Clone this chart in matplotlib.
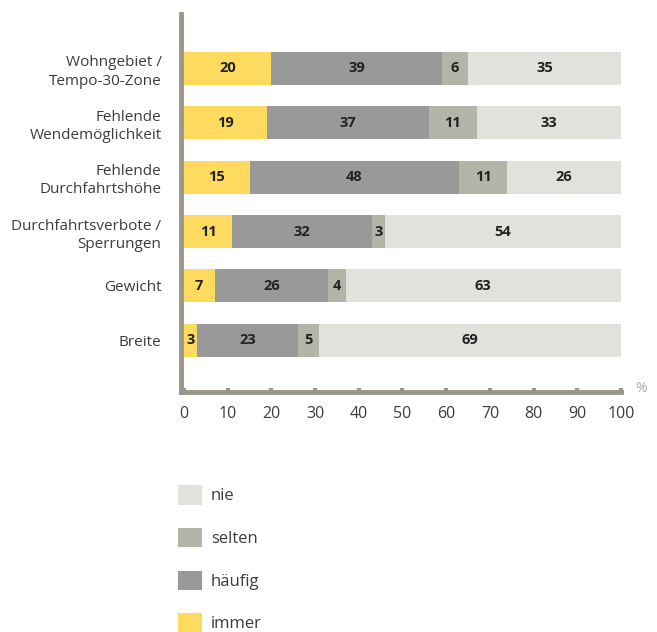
import numpy as np
import matplotlib.pyplot as plt

plt.rcParams['font.family'] = ['Open Sans', 'DejaVu Sans']

# rows, top to bottom
categories = ["Wohngebiet /\nTempo-30-Zone", "Fehlende\nWendemöglichkeit",
              "Fehlende\nDurchfahrtshöhe", "Durchfahrtsverbote /\nSperrungen",
              "Gewicht", "Breite"]
immer = [20, 19, 15, 11, 7, 3]
haeufig = [39, 37, 48, 32, 26, 23]
selten = [6, 11, 11, 3, 4, 5]
nie = [35, 33, 26, 54, 63, 69]

series = [("immer", immer, "#fedb5f"),
          ("häufig", haeufig, "#999999"),
          ("selten", selten, "#b5b4a8"),
          ("nie", nie, "#e2e1dc")]

axis_col = "#9a978a"
text_col = "#3c3c3c"

fig = plt.figure(figsize=(6.57, 6.32), dpi=100)
W, H = 657, 632
ax = fig.add_axes([181 / W, 1 - 392 / H, (621 - 181) / W, (392 - 14) / H])

y = np.arange(len(categories))
left = np.zeros(len(categories))
handles = {}
for name, vals, col in series:
    vals = np.array(vals)
    b = ax.barh(y, vals, left=left, height=0.607, color=col, label=name, zorder=1)
    handles[name] = b
    for yi, l, v in zip(y, left, vals):
        ax.text(l + v / 2, yi, str(v), ha='center', va='center',
                fontsize=10.5, fontweight='bold', color="#222222")
    left = left + vals

ax.set_xlim(-0.68, 100)
ax.set_ylim(5.95, -1.0)
ax.set_yticks(y)
ax.set_yticklabels(categories, fontsize=11, color=text_col, linespacing=1.3, ha='right')
ax.tick_params(axis='y', length=0, pad=14)
ax.set_xticks(np.arange(0, 101, 10))
ax.tick_params(axis='x', direction='in', length=3, width=3, color=axis_col,
               labelsize=11.5, labelcolor=text_col, pad=10)

for s in ['top', 'right']:
    ax.spines[s].set_visible(False)
for s in ['left', 'bottom']:
    ax.spines[s].set_color(axis_col)
    ax.spines[s].set_linewidth(3.5)
    ax.spines[s].set_zorder(3)

fig.text(641 / W, 1 - 388 / H, "%", fontsize=10, color="#aaaaaa", ha='center', va='center')

order = ["nie", "selten", "häufig", "immer"]
fig.legend([handles[n] for n in order], order, loc='upper left',
           bbox_to_anchor=(170 / W, 1 - 477 / H), frameon=False, borderpad=0,
           fontsize=12, handlelength=1.4, handleheight=1.4,
           handletextpad=0.55, labelspacing=1.4, labelcolor=text_col)

fig.savefig("out.png", dpi=100)
